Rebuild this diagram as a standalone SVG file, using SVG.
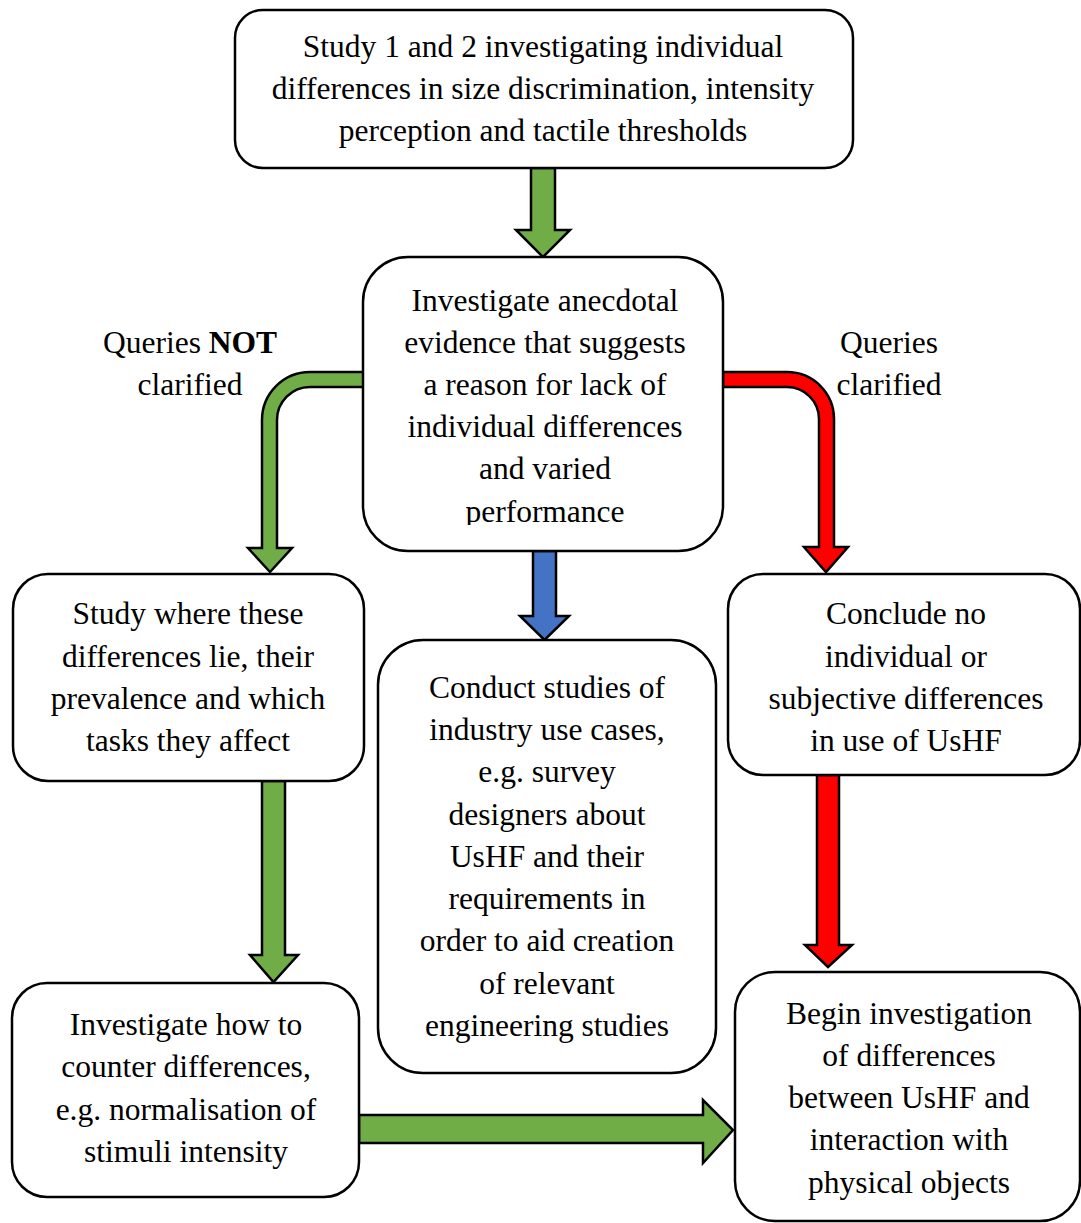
<svg xmlns="http://www.w3.org/2000/svg" width="1081" height="1223" viewBox="0 0 1081 1223">
<style>
.box{fill:#fff;stroke:#000;stroke-width:2.5}
.t{font-family:"Liberation Serif","Times New Roman",serif;font-size:31.5px;fill:#000;text-anchor:middle}
.g{fill:#70AD47;stroke:#000;stroke-width:2.5;stroke-linejoin:miter}
.r{fill:#FF0000;stroke:#000;stroke-width:2.5}
.b{fill:#4472C4;stroke:#000;stroke-width:2.5}
</style>
<defs>
<clipPath id="clipC"><rect x="363" y="257" width="360" height="268"/></clipPath>
</defs>
<rect width="1081" height="1223" fill="#fff"/>
<g id="connectors">
<path class="g" d="M531,168 L555,168 L555,230 L570,230 L543,257 L516,230 L531,230 Z"/>
<path class="g" d="M364,372 L310,372 A48,48 0 0 0 262,420 L262,548 L248,548 L270,572 L292,548 L277,548 L277,420 A33,33 0 0 1 310,387 L364,387 Z"/>
<path class="r" d="M723,372 L787,372 A47,47 0 0 1 834,419 L834,547 L848,547 L826,572 L804,547 L819,547 L819,419 A32,32 0 0 0 787,387 L723,387 Z"/>
<path class="b" d="M533,551 L556,551 L556,616 L569,616 L544.5,640 L520,616 L533,616 Z"/>
<path class="g" d="M262,781 L285,781 L285,955 L298,955 L273.5,982 L250,955 L262,955 Z"/>
<path class="r" d="M817,775 L839,775 L839,945 L852,945 L828,967 L805,945 L817,945 Z"/>
<path class="g" d="M359,1115 L703,1115 L703,1100 L733,1130 L703,1163 L703,1143 L359,1143 Z"/>
</g>
<g id="label-not">
<text class="t" x="190" y="353">Queries <tspan font-weight="bold">NOT</tspan></text>
<text class="t" x="190" y="395">clarified</text>
</g>
<g id="label-clarified">
<text class="t" x="889" y="353">Queries</text>
<text class="t" x="889" y="395">clarified</text>
</g>
<g id="node-study12">
<rect class="box" x="235" y="10" width="618" height="158" rx="28"/>
<text class="t" x="543" y="57">Study 1 and 2 investigating individual</text>
<text class="t" x="543" y="99">differences in size discrimination, intensity</text>
<text class="t" x="543" y="141">perception and tactile thresholds</text>
</g>
<g id="node-anecdotal">
<rect class="box" x="363" y="257" width="360" height="294" rx="45"/>
<g clip-path="url(#clipC)">
<text class="t" x="545" y="311">Investigate anecdotal</text>
<text class="t" x="545" y="353">evidence that suggests</text>
<text class="t" x="545" y="395">a reason for lack of</text>
<text class="t" x="545" y="437">individual differences</text>
<text class="t" x="545" y="479">and varied</text>
<text class="t" x="545" y="522">performance</text>
</g>
</g>
<g id="node-where">
<rect class="box" x="13" y="574" width="351" height="207" rx="35"/>
<text class="t" x="188" y="624">Study where these</text>
<text class="t" x="188" y="667">differences lie, their</text>
<text class="t" x="188" y="709">prevalence and which</text>
<text class="t" x="188" y="751">tasks they affect</text>
</g>
<g id="node-conclude">
<rect class="box" x="728" y="574" width="352" height="201" rx="35"/>
<text class="t" x="906" y="624">Conclude no</text>
<text class="t" x="906" y="667">individual or</text>
<text class="t" x="906" y="709">subjective differences</text>
<text class="t" x="906" y="751">in use of UsHF</text>
</g>
<g id="node-industry">
<rect class="box" x="378" y="640" width="338" height="433" rx="45"/>
<text class="t" x="547" y="698">Conduct studies of</text>
<text class="t" x="547" y="740">industry use cases,</text>
<text class="t" x="547" y="782">e.g. survey</text>
<text class="t" x="547" y="825">designers about</text>
<text class="t" x="547" y="867">UsHF and their</text>
<text class="t" x="547" y="909">requirements in</text>
<text class="t" x="547" y="951">order to aid creation</text>
<text class="t" x="547" y="994">of relevant</text>
<text class="t" x="547" y="1036">engineering studies</text>
</g>
<g id="node-counter">
<rect class="box" x="12" y="983" width="347" height="214" rx="35"/>
<text class="t" x="186" y="1035">Investigate how to</text>
<text class="t" x="186" y="1077">counter differences,</text>
<text class="t" x="186" y="1120">e.g. normalisation of</text>
<text class="t" x="186" y="1162">stimuli intensity</text>
</g>
<g id="node-begin">
<rect class="box" x="735" y="972" width="345" height="249" rx="40"/>
<text class="t" x="909" y="1024">Begin investigation</text>
<text class="t" x="909" y="1066">of differences</text>
<text class="t" x="909" y="1108">between UsHF and</text>
<text class="t" x="909" y="1150">interaction with</text>
<text class="t" x="909" y="1193">physical objects</text>
</g>
</svg>
